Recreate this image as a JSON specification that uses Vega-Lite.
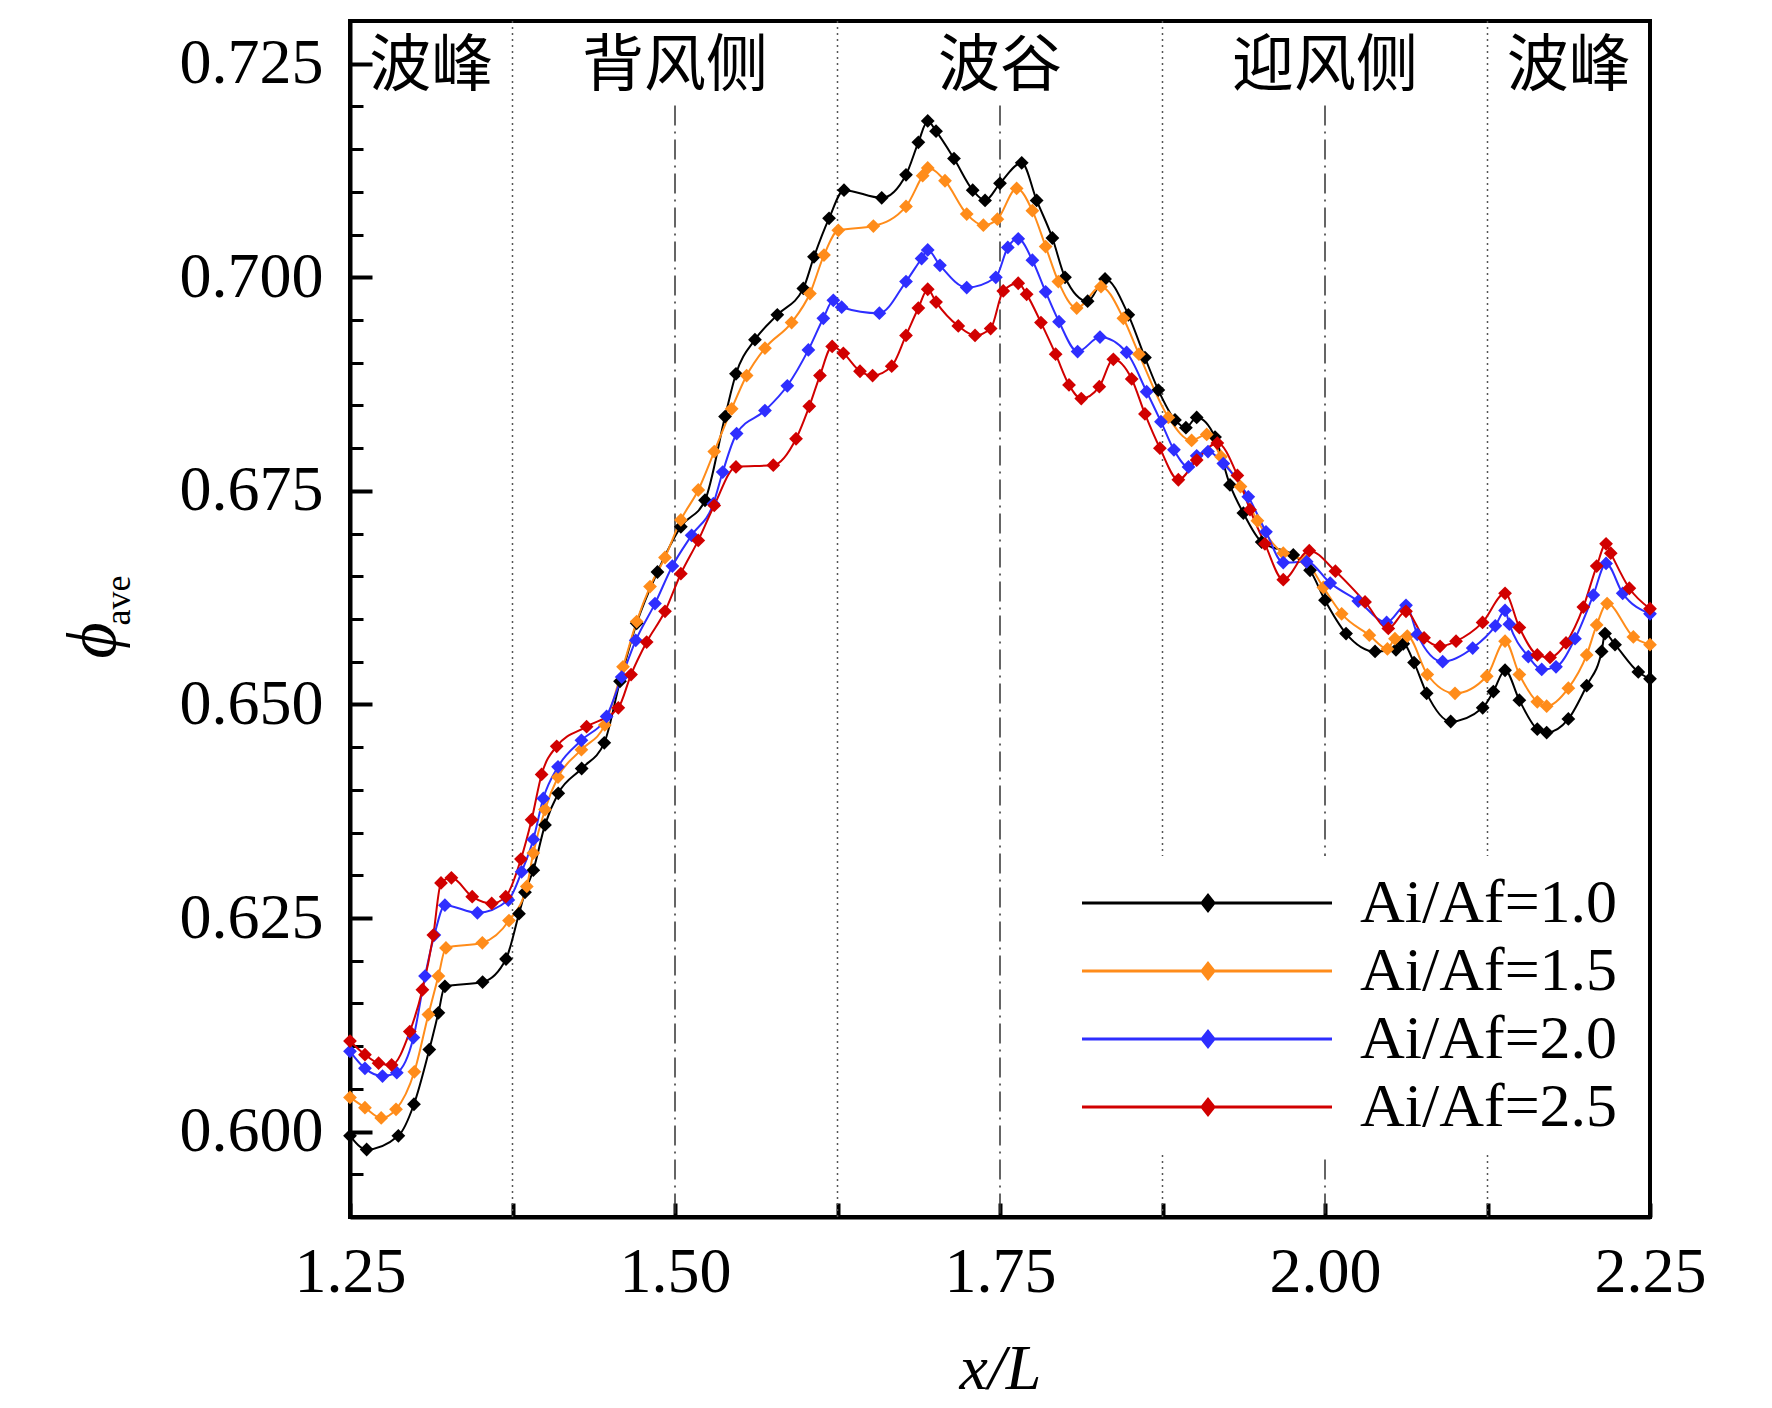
{
  "$schema": "https://vega.github.io/schema/vega-lite/v6.json",
  "width": 1300,
  "height": 1196,
  "autosize": {"type": "none"},
  "padding": {"left": 350, "top": 21, "right": 122, "bottom": 191},
  "background": "white",
  "config": {"view": {"stroke": "black", "strokeWidth": 4}, "font": "Liberation Serif"},
  "datasets": {
    "guides": [
      {"x": 1.375, "kind": "dot"}, {"x": 1.625, "kind": "dot"}, {"x": 1.875, "kind": "dot"}, {"x": 2.125, "kind": "dot"},
      {"x": 1.5, "kind": "dashdot"}, {"x": 1.75, "kind": "dashdot"}, {"x": 2.0, "kind": "dashdot"}
    ],
    "zones": [
      {"x": 1.3125, "label": "波峰"}, {"x": 1.5, "label": "背风侧"}, {"x": 1.75, "label": "波谷"},
      {"x": 2.0, "label": "迎风侧"}, {"x": 2.1875, "label": "波峰"}
    ],
    "curves": [
      {"s":"1.0","x":1.25,"y":0.5995},{"s":"1.0","x":1.2628,"y":0.5979},{"s":"1.0","x":1.2872,"y":0.5995},{"s":"1.0","x":1.2992,"y":0.6032},{"s":"1.0","x":1.311,"y":0.6096},{"s":"1.0","x":1.318,"y":0.6139},{"s":"1.0","x":1.323,"y":0.617},{"s":"1.0","x":1.352,"y":0.6175},{"s":"1.0","x":1.37,"y":0.6202},{"s":"1.0","x":1.38,"y":0.6255},{"s":"1.0","x":1.3846,"y":0.628},{"s":"1.0","x":1.391,"y":0.6306},{"s":"1.0","x":1.4,"y":0.6359},{"s":"1.0","x":1.4102,"y":0.6396},{"s":"1.0","x":1.4282,"y":0.6425},{"s":"1.0","x":1.4456,"y":0.6455},{"s":"1.0","x":1.4577,"y":0.6527},{"s":"1.0","x":1.4705,"y":0.6595},{"s":"1.0","x":1.4865,"y":0.6655},{"s":"1.0","x":1.5045,"y":0.6708},{"s":"1.0","x":1.5231,"y":0.6739},{"s":"1.0","x":1.5385,"y":0.6837},{"s":"1.0","x":1.5469,"y":0.6887},{"s":"1.0","x":1.5615,"y":0.6927},{"s":"1.0","x":1.5787,"y":0.6956},{"s":"1.0","x":1.5987,"y":0.6987},{"s":"1.0","x":1.6069,"y":0.7024},{"s":"1.0","x":1.6185,"y":0.7069},{"s":"1.0","x":1.63,"y":0.7102},{"s":"1.0","x":1.659,"y":0.7093},{"s":"1.0","x":1.6777,"y":0.712},{"s":"1.0","x":1.6872,"y":0.7158},{"s":"1.0","x":1.6944,"y":0.7183},{"s":"1.0","x":1.7008,"y":0.7171},{"s":"1.0","x":1.7146,"y":0.7139},{"s":"1.0","x":1.729,"y":0.7102},{"s":"1.0","x":1.7385,"y":0.709},{"s":"1.0","x":1.75,"y":0.711},{"s":"1.0","x":1.7667,"y":0.7134},{"s":"1.0","x":1.7782,"y":0.709},{"s":"1.0","x":1.7903,"y":0.7046},{"s":"1.0","x":1.8,"y":0.7},{"s":"1.0","x":1.8174,"y":0.6972},{"s":"1.0","x":1.8308,"y":0.6998},{"s":"1.0","x":1.8487,"y":0.6956},{"s":"1.0","x":1.8615,"y":0.6906},{"s":"1.0","x":1.8718,"y":0.6868},{"s":"1.0","x":1.8846,"y":0.6833},{"s":"1.0","x":1.893,"y":0.6824},{"s":"1.0","x":1.9013,"y":0.6836},{"s":"1.0","x":1.9154,"y":0.6813},{"s":"1.0","x":1.9269,"y":0.6757},{"s":"1.0","x":1.9372,"y":0.6724},{"s":"1.0","x":1.9513,"y":0.669},{"s":"1.0","x":1.9756,"y":0.6675},{"s":"1.0","x":1.9885,"y":0.6657},{"s":"1.0","x":2.0,"y":0.6622},{"s":"1.0","x":2.0162,"y":0.6583},{"s":"1.0","x":2.0385,"y":0.6562},{"s":"1.0","x":2.0546,"y":0.6564},{"s":"1.0","x":2.0602,"y":0.6571},{"s":"1.0","x":2.0685,"y":0.6549},{"s":"1.0","x":2.0782,"y":0.6513},{"s":"1.0","x":2.0967,"y":0.648},{"s":"1.0","x":2.1213,"y":0.6496},{"s":"1.0","x":2.1295,"y":0.6515},{"s":"1.0","x":2.1385,"y":0.654},{"s":"1.0","x":2.1495,"y":0.6505},{"s":"1.0","x":2.1633,"y":0.6471},{"s":"1.0","x":2.1705,"y":0.6467},{"s":"1.0","x":2.1872,"y":0.6483},{"s":"1.0","x":2.2013,"y":0.6522},{"s":"1.0","x":2.2128,"y":0.6562},{"s":"1.0","x":2.2154,"y":0.6583},{"s":"1.0","x":2.2231,"y":0.657},{"s":"1.0","x":2.241,"y":0.6538},{"s":"1.0","x":2.25,"y":0.653},
      {"s":"1.5","x":1.25,"y":0.604},{"s":"1.5","x":1.2615,"y":0.6028},{"s":"1.5","x":1.274,"y":0.6016},{"s":"1.5","x":1.2854,"y":0.6026},{"s":"1.5","x":1.2995,"y":0.607},{"s":"1.5","x":1.3103,"y":0.6137},{"s":"1.5","x":1.318,"y":0.6182},{"s":"1.5","x":1.3238,"y":0.6215},{"s":"1.5","x":1.3518,"y":0.6221},{"s":"1.5","x":1.3723,"y":0.6247},{"s":"1.5","x":1.386,"y":0.6287},{"s":"1.5","x":1.391,"y":0.6326},{"s":"1.5","x":1.4,"y":0.6377},{"s":"1.5","x":1.41,"y":0.6415},{"s":"1.5","x":1.428,"y":0.6447},{"s":"1.5","x":1.446,"y":0.6476},{"s":"1.5","x":1.46,"y":0.6544},{"s":"1.5","x":1.4705,"y":0.6597},{"s":"1.5","x":1.4808,"y":0.6638},{"s":"1.5","x":1.4923,"y":0.6672},{"s":"1.5","x":1.5045,"y":0.6716},{"s":"1.5","x":1.5179,"y":0.6751},{"s":"1.5","x":1.5302,"y":0.6796},{"s":"1.5","x":1.5436,"y":0.6846},{"s":"1.5","x":1.5551,"y":0.6885},{"s":"1.5","x":1.5692,"y":0.6917},{"s":"1.5","x":1.5897,"y":0.6947},{"s":"1.5","x":1.6038,"y":0.6981},{"s":"1.5","x":1.6146,"y":0.7026},{"s":"1.5","x":1.6256,"y":0.7055},{"s":"1.5","x":1.6526,"y":0.706},{"s":"1.5","x":1.6777,"y":0.7083},{"s":"1.5","x":1.6905,"y":0.7119},{"s":"1.5","x":1.6944,"y":0.7128},{"s":"1.5","x":1.7077,"y":0.7113},{"s":"1.5","x":1.7244,"y":0.7074},{"s":"1.5","x":1.7372,"y":0.7061},{"s":"1.5","x":1.748,"y":0.7068},{"s":"1.5","x":1.7628,"y":0.7104},{"s":"1.5","x":1.7749,"y":0.7078},{"s":"1.5","x":1.7851,"y":0.7036},{"s":"1.5","x":1.7949,"y":0.6995},{"s":"1.5","x":1.809,"y":0.6964},{"s":"1.5","x":1.8277,"y":0.6989},{"s":"1.5","x":1.8449,"y":0.6952},{"s":"1.5","x":1.8569,"y":0.691},{"s":"1.5","x":1.8795,"y":0.6836},{"s":"1.5","x":1.8974,"y":0.6809},{"s":"1.5","x":1.909,"y":0.6816},{"s":"1.5","x":1.92,"y":0.679},{"s":"1.5","x":1.935,"y":0.6755},{"s":"1.5","x":1.948,"y":0.6715},{"s":"1.5","x":1.9679,"y":0.6677},{"s":"1.5","x":1.985,"y":0.6668},{"s":"1.5","x":1.9987,"y":0.6637},{"s":"1.5","x":2.0128,"y":0.6606},{"s":"1.5","x":2.0341,"y":0.6581},{"s":"1.5","x":2.048,"y":0.6565},{"s":"1.5","x":2.0538,"y":0.6577},{"s":"1.5","x":2.0633,"y":0.658},{"s":"1.5","x":2.0787,"y":0.6535},{"s":"1.5","x":2.1,"y":0.6513},{"s":"1.5","x":2.1244,"y":0.6533},{"s":"1.5","x":2.1385,"y":0.6574},{"s":"1.5","x":2.1495,"y":0.6535},{"s":"1.5","x":2.1633,"y":0.6503},{"s":"1.5","x":2.1705,"y":0.6498},{"s":"1.5","x":2.1872,"y":0.6519},{"s":"1.5","x":2.2013,"y":0.6558},{"s":"1.5","x":2.209,"y":0.6593},{"s":"1.5","x":2.217,"y":0.6618},{"s":"1.5","x":2.2372,"y":0.6579},{"s":"1.5","x":2.25,"y":0.657},
      {"s":"2.0","x":1.25,"y":0.6094},{"s":"2.0","x":1.2615,"y":0.6074},{"s":"2.0","x":1.275,"y":0.6065},{"s":"2.0","x":1.286,"y":0.6069},{"s":"2.0","x":1.2988,"y":0.611},{"s":"2.0","x":1.3077,"y":0.6182},{"s":"2.0","x":1.3149,"y":0.623},{"s":"2.0","x":1.323,"y":0.6265},{"s":"2.0","x":1.348,"y":0.6256},{"s":"2.0","x":1.3718,"y":0.6271},{"s":"2.0","x":1.382,"y":0.6304},{"s":"2.0","x":1.391,"y":0.6342},{"s":"2.0","x":1.3987,"y":0.639},{"s":"2.0","x":1.41,"y":0.6427},{"s":"2.0","x":1.428,"y":0.6458},{"s":"2.0","x":1.4474,"y":0.6486},{"s":"2.0","x":1.459,"y":0.6532},{"s":"2.0","x":1.4698,"y":0.6575},{"s":"2.0","x":1.4846,"y":0.6618},{"s":"2.0","x":1.498,"y":0.6662},{"s":"2.0","x":1.5128,"y":0.6698},{"s":"2.0","x":1.5295,"y":0.6735},{"s":"2.0","x":1.5367,"y":0.6772},{"s":"2.0","x":1.5474,"y":0.6817},{"s":"2.0","x":1.5692,"y":0.6844},{"s":"2.0","x":1.5864,"y":0.6873},{"s":"2.0","x":1.6026,"y":0.6915},{"s":"2.0","x":1.6141,"y":0.6952},{"s":"2.0","x":1.6218,"y":0.6973},{"s":"2.0","x":1.6282,"y":0.6965},{"s":"2.0","x":1.6572,"y":0.6958},{"s":"2.0","x":1.6777,"y":0.6995},{"s":"2.0","x":1.6897,"y":0.7022},{"s":"2.0","x":1.6944,"y":0.7032},{"s":"2.0","x":1.7038,"y":0.7014},{"s":"2.0","x":1.7244,"y":0.6988},{"s":"2.0","x":1.7468,"y":0.7},{"s":"2.0","x":1.756,"y":0.7035},{"s":"2.0","x":1.764,"y":0.7045},{"s":"2.0","x":1.7749,"y":0.702},{"s":"2.0","x":1.7851,"y":0.6983},{"s":"2.0","x":1.7954,"y":0.6948},{"s":"2.0","x":1.8097,"y":0.6913},{"s":"2.0","x":1.8269,"y":0.693},{"s":"2.0","x":1.8474,"y":0.6912},{"s":"2.0","x":1.8628,"y":0.6866},{"s":"2.0","x":1.8738,"y":0.6831},{"s":"2.0","x":1.8838,"y":0.6798},{"s":"2.0","x":1.895,"y":0.6778},{"s":"2.0","x":1.9013,"y":0.6791},{"s":"2.0","x":1.91,"y":0.6796},{"s":"2.0","x":1.9218,"y":0.6782},{"s":"2.0","x":1.941,"y":0.6743},{"s":"2.0","x":1.9546,"y":0.6702},{"s":"2.0","x":1.9679,"y":0.6666},{"s":"2.0","x":1.9859,"y":0.6667},{"s":"2.0","x":2.004,"y":0.6642},{"s":"2.0","x":2.0256,"y":0.6621},{"s":"2.0","x":2.0474,"y":0.6596},{"s":"2.0","x":2.0623,"y":0.6616},{"s":"2.0","x":2.071,"y":0.6582},{"s":"2.0","x":2.0905,"y":0.655},{"s":"2.0","x":2.1136,"y":0.6566},{"s":"2.0","x":2.131,"y":0.6592},{"s":"2.0","x":2.1385,"y":0.661},{"s":"2.0","x":2.1418,"y":0.6594},{"s":"2.0","x":2.1564,"y":0.6556},{"s":"2.0","x":2.1667,"y":0.6541},{"s":"2.0","x":2.1777,"y":0.6544},{"s":"2.0","x":2.1923,"y":0.6577},{"s":"2.0","x":2.2064,"y":0.6628},{"s":"2.0","x":2.2162,"y":0.6665},{"s":"2.0","x":2.229,"y":0.663},{"s":"2.0","x":2.25,"y":0.6606},
      {"s":"2.5","x":1.25,"y":0.6106},{"s":"2.5","x":1.2615,"y":0.609},{"s":"2.5","x":1.272,"y":0.608},{"s":"2.5","x":1.282,"y":0.6078},{"s":"2.5","x":1.296,"y":0.6117},{"s":"2.5","x":1.3057,"y":0.6166},{"s":"2.5","x":1.3141,"y":0.623},{"s":"2.5","x":1.32,"y":0.6291},{"s":"2.5","x":1.328,"y":0.6297},{"s":"2.5","x":1.344,"y":0.6275},{"s":"2.5","x":1.359,"y":0.6267},{"s":"2.5","x":1.3698,"y":0.6275},{"s":"2.5","x":1.3815,"y":0.6319},{"s":"2.5","x":1.3897,"y":0.6365},{"s":"2.5","x":1.3974,"y":0.6418},{"s":"2.5","x":1.409,"y":0.6451},{"s":"2.5","x":1.432,"y":0.6474},{"s":"2.5","x":1.4564,"y":0.6496},{"s":"2.5","x":1.4662,"y":0.6535},{"s":"2.5","x":1.4782,"y":0.6573},{"s":"2.5","x":1.4923,"y":0.6609},{"s":"2.5","x":1.5045,"y":0.6653},{"s":"2.5","x":1.5179,"y":0.6692},{"s":"2.5","x":1.5302,"y":0.6733},{"s":"2.5","x":1.5469,"y":0.6778},{"s":"2.5","x":1.5756,"y":0.678},{"s":"2.5","x":1.5931,"y":0.6811},{"s":"2.5","x":1.6033,"y":0.6849},{"s":"2.5","x":1.6115,"y":0.6885},{"s":"2.5","x":1.6209,"y":0.6919},{"s":"2.5","x":1.6295,"y":0.6911},{"s":"2.5","x":1.6423,"y":0.689},{"s":"2.5","x":1.652,"y":0.6885},{"s":"2.5","x":1.6667,"y":0.6896},{"s":"2.5","x":1.6777,"y":0.6932},{"s":"2.5","x":1.6872,"y":0.6964},{"s":"2.5","x":1.6944,"y":0.6986},{"s":"2.5","x":1.7008,"y":0.6971},{"s":"2.5","x":1.7179,"y":0.6943},{"s":"2.5","x":1.7308,"y":0.6932},{"s":"2.5","x":1.7428,"y":0.694},{"s":"2.5","x":1.7525,"y":0.6984},{"s":"2.5","x":1.764,"y":0.6993},{"s":"2.5","x":1.7705,"y":0.698},{"s":"2.5","x":1.7815,"y":0.6947},{"s":"2.5","x":1.7928,"y":0.691},{"s":"2.5","x":1.8031,"y":0.6874},{"s":"2.5","x":1.8125,"y":0.6858},{"s":"2.5","x":1.8264,"y":0.6872},{"s":"2.5","x":1.8372,"y":0.6904},{"s":"2.5","x":1.8513,"y":0.6881},{"s":"2.5","x":1.8615,"y":0.684},{"s":"2.5","x":1.873,"y":0.68},{"s":"2.5","x":1.8872,"y":0.6763},{"s":"2.5","x":1.9013,"y":0.6786},{"s":"2.5","x":1.9172,"y":0.6806},{"s":"2.5","x":1.9326,"y":0.6768},{"s":"2.5","x":1.9423,"y":0.6728},{"s":"2.5","x":1.9538,"y":0.6688},{"s":"2.5","x":1.9679,"y":0.6646},{"s":"2.5","x":1.9879,"y":0.668},{"s":"2.5","x":2.008,"y":0.6656},{"s":"2.5","x":2.0308,"y":0.662},{"s":"2.5","x":2.0487,"y":0.6589},{"s":"2.5","x":2.0623,"y":0.6609},{"s":"2.5","x":2.0762,"y":0.6578},{"s":"2.5","x":2.0885,"y":0.6568},{"s":"2.5","x":2.1008,"y":0.6574},{"s":"2.5","x":2.1212,"y":0.6596},{"s":"2.5","x":2.1385,"y":0.663},{"s":"2.5","x":2.1495,"y":0.659},{"s":"2.5","x":2.1633,"y":0.6558},{"s":"2.5","x":2.1731,"y":0.6555},{"s":"2.5","x":2.1854,"y":0.6572},{"s":"2.5","x":2.1987,"y":0.6614},{"s":"2.5","x":2.209,"y":0.6662},{"s":"2.5","x":2.2162,"y":0.6688},{"s":"2.5","x":2.2198,"y":0.6677},{"s":"2.5","x":2.2341,"y":0.6636},{"s":"2.5","x":2.25,"y":0.6612}
    ]
  },
  "encoding": {
    "x": {
      "field": "x",
      "type": "quantitative",
      "scale": {"domain": [1.25, 2.25], "nice": false, "zero": false},
      "axis": {
        "values": [1.25, 1.375, 1.5, 1.625, 1.75, 1.875, 2.0, 2.125, 2.25],
        "labelExpr": "round(datum.value * 1000) % 250 == 0 ? format(datum.value, '.2f') : ''",
        "labelOverlap": false,
        "labelFlush": false,
        "grid": false,
        "domainColor": "black",
        "domainWidth": 4,
        "tickColor": "black",
        "tickWidth": 4,
        "tickSize": -14,
        "labelFont": "Liberation Serif",
        "labelFontSize": 64,
        "labelColor": "black",
        "labelBaseline": "alphabetic",
        "labelPadding": 88,
        "title": "x/L",
        "titleFont": "Liberation Serif",
        "titleFontSize": 64,
        "titleFontStyle": "italic",
        "titleFontWeight": "normal",
        "titleColor": "black",
        "titleBaseline": "alphabetic",
        "titleY": 171
      }
    }
  },
  "layer": [
    {
      "data": {"name": "guides"},
      "transform": [{"filter": "datum.kind == 'dot'"}],
      "mark": {"type": "rule", "color": "#555555", "strokeWidth": 1.5, "strokeDash": [2, 4]}
    },
    {
      "data": {"name": "guides"},
      "transform": [{"filter": "datum.kind == 'dashdot'"}],
      "mark": {"type": "rule", "color": "#333333", "strokeWidth": 1.5, "strokeDash": [20, 6, 2, 6]},
      "encoding": {
        "y": {"datum": 0.7201, "type": "quantitative", "axis": null},
        "y2": {"datum": 0.59}
      }
    },
    {
      "data": {"name": "curves"},
      "mark": {"type": "line", "interpolate": "monotone", "strokeWidth": 2},
      "encoding": {
        "y": {
          "field": "y",
          "type": "quantitative",
          "scale": {"domain": [0.59, 0.73], "nice": false, "zero": false},
          "axis": {
            "values": [0.6, 0.625, 0.65, 0.675, 0.7, 0.725],
            "format": ".3f",
            "grid": false,
            "labelOverlap": false,
            "labelFlush": false,
            "domainColor": "black",
            "domainWidth": 4,
            "tickColor": "black",
            "tickWidth": 4,
            "tickSize": -22,
            "labelFont": "Liberation Serif",
            "labelFontSize": 64,
            "labelColor": "black",
            "labelPadding": 49,
            "title": "ϕ",
            "titleFont": "Liberation Serif",
            "titleFontSize": 70,
            "titleFontStyle": "italic",
            "titleFontWeight": "normal",
            "titleColor": "black",
            "titleAngle": 270,
            "titleAlign": "center",
            "titleBaseline": "alphabetic",
            "titleX": -236,
            "titleY": 619
          }
        },
        "color": {
          "field": "s",
          "type": "nominal",
          "scale": {"domain": ["1.0", "1.5", "2.0", "2.5"], "range": ["#000000", "#FF8C1A", "#2E2EFF", "#D10000"]},
          "legend": {
            "orient": "none",
            "legendX": 695,
            "legendY": 835,
            "title": null,
            "padding": 16,
            "fillColor": "white",
            "rowPadding": 6,
            "labelFont": "Liberation Serif",
            "labelFontSize": 62,
            "labelColor": "black",
            "labelLimit": 0,
            "labelOffset": 237,
            "labelExpr": "'Ai/Af=' + datum.label",
            "symbolType": "M-1,0L24,0M11.6,-0.75L12.2,0L11.6,0.75L11,0Z",
            "symbolSize": 400,
            "symbolStrokeWidth": 3,
            "encode": {
              "symbols": {
                "update": {
                  "fill": {"scale": "color", "field": "value"},
                  "stroke": {"scale": "color", "field": "value"},
                  "strokeWidth": {"value": 3},
                  "opacity": {"value": 1}
                }
              }
            }
          }
        }
      }
    },
    {
      "data": {"name": "curves"},
      "mark": {"type": "point", "shape": "diamond", "filled": true, "size": 190, "opacity": 1},
      "encoding": {
        "y": {"field": "y", "type": "quantitative", "axis": null},
        "color": {"field": "s", "type": "nominal"}
      }
    },
    {
      "data": {"name": "zones"},
      "mark": {"type": "text", "font": "Noto Sans CJK SC", "fontSize": 62, "align": "center", "baseline": "middle", "color": "black"},
      "encoding": {
        "text": {"field": "label"},
        "y": {
          "datum": 0.7246,
          "type": "quantitative",
          "axis": {
            "orient": "left",
            "values": [0.59, 0.595, 0.605, 0.61, 0.615, 0.62, 0.63, 0.635, 0.64, 0.645, 0.655, 0.66, 0.665, 0.67, 0.68, 0.685, 0.69, 0.695, 0.705, 0.71, 0.715, 0.72, 0.73],
            "labels": false,
            "domain": false,
            "grid": false,
            "tickColor": "black",
            "tickWidth": 3,
            "tickSize": -13,
            "title": "ave",
            "titleFont": "Liberation Serif",
            "titleFontSize": 36,
            "titleFontWeight": "normal",
            "titleColor": "black",
            "titleAngle": 270,
            "titleAlign": "center",
            "titleBaseline": "alphabetic",
            "titleX": -221,
            "titleY": 579
          }
        }
      }
    }
  ],
  "resolve": {"axis": {"y": "independent"}}
}
